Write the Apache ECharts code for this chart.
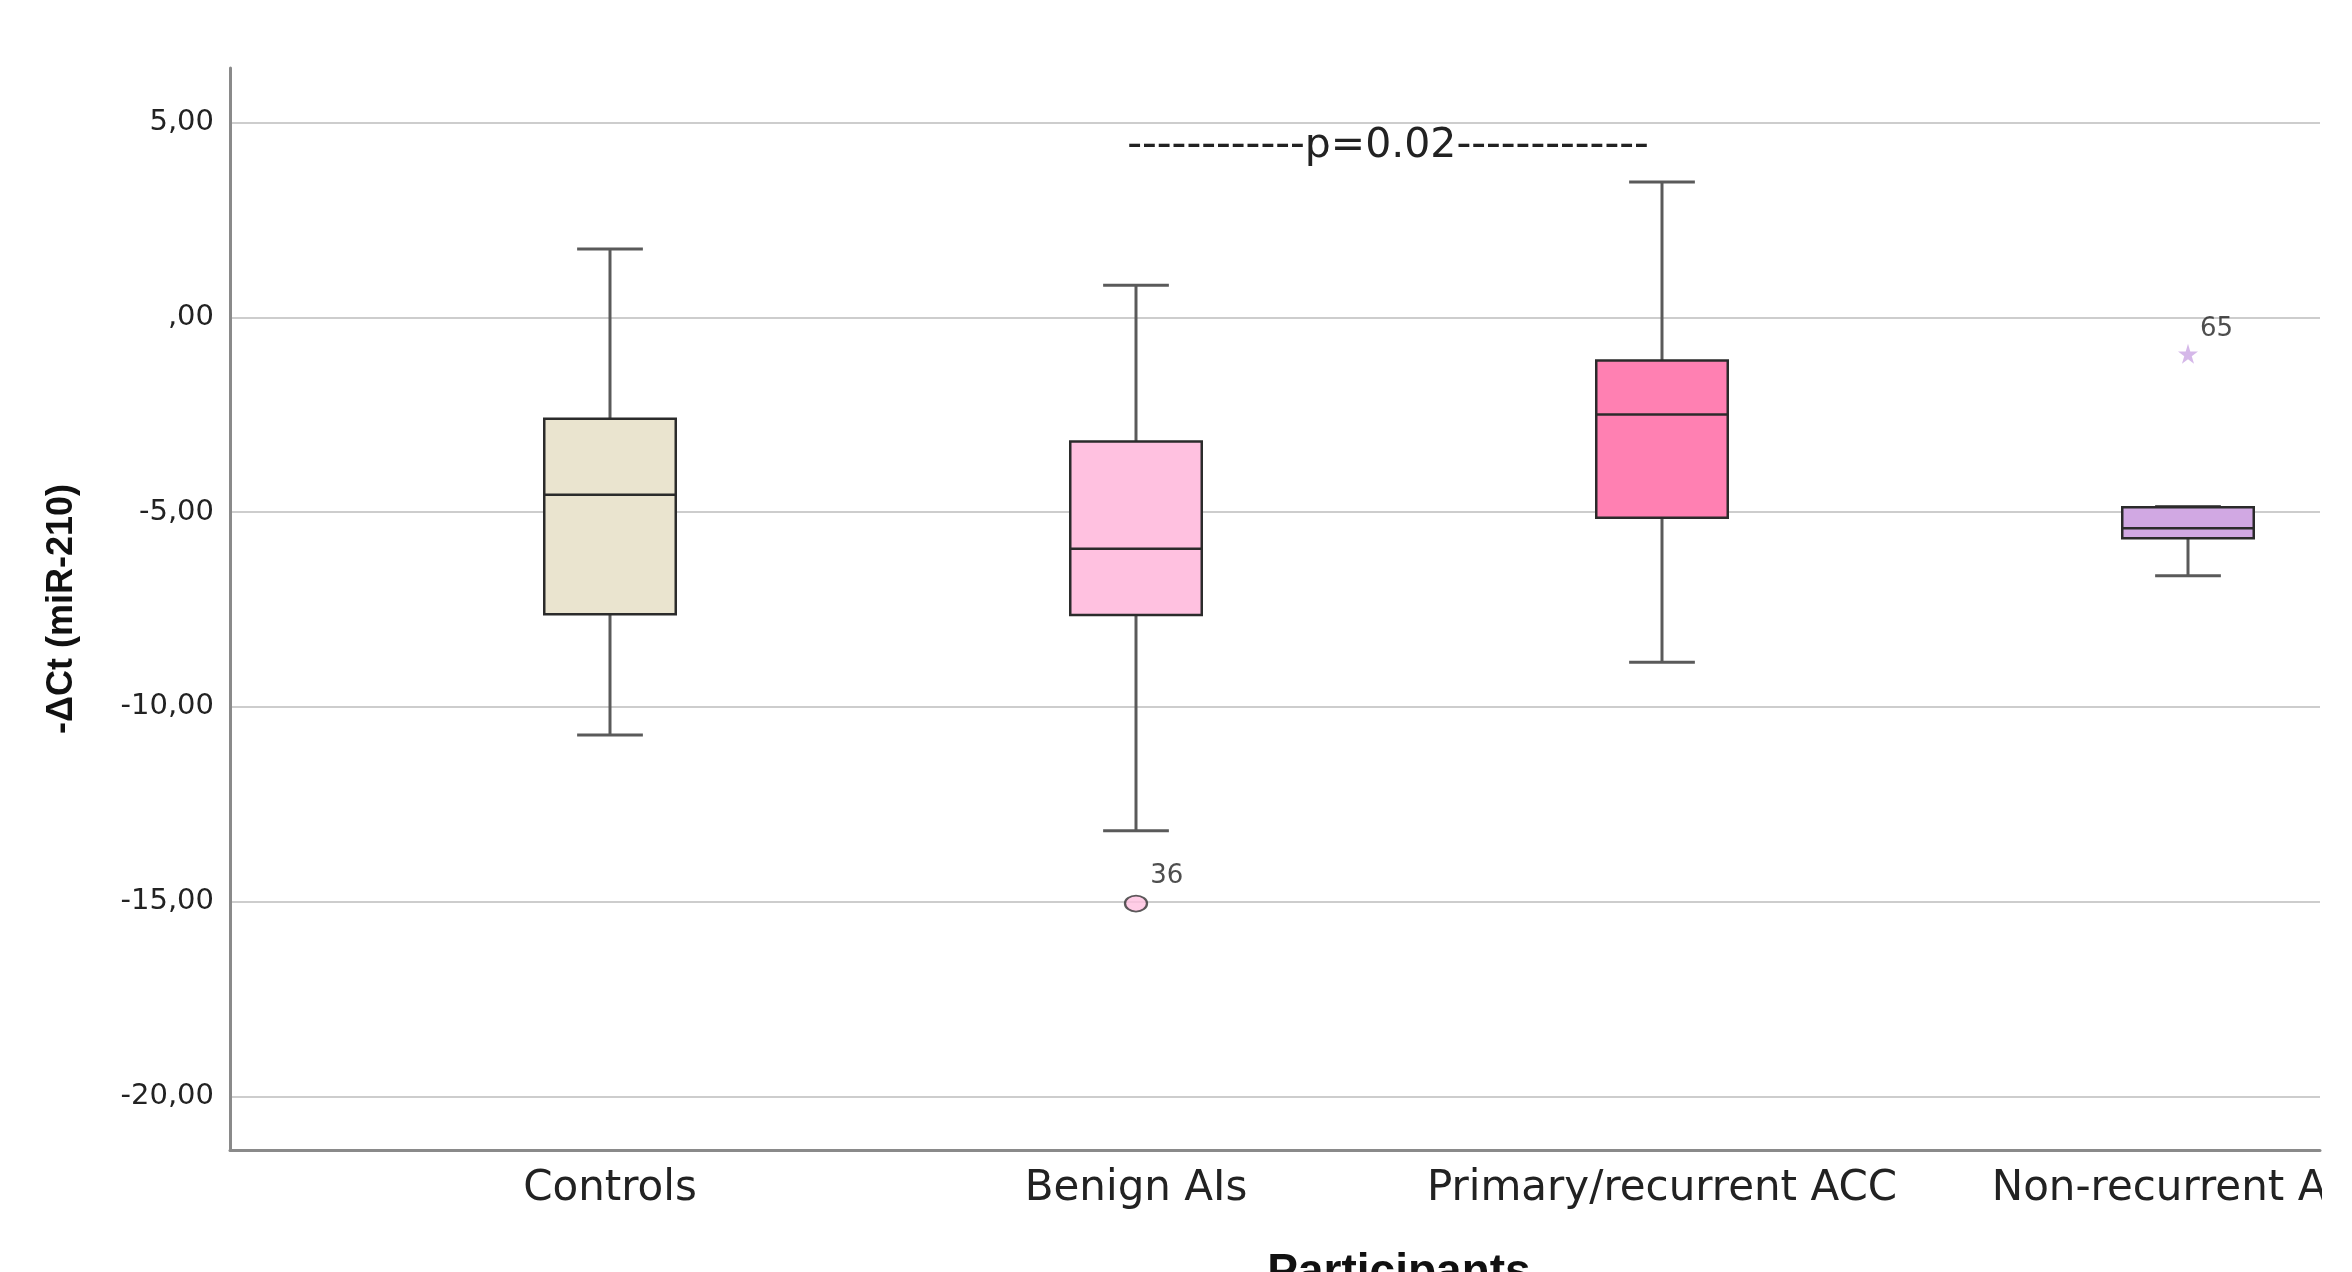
<!DOCTYPE html>
<html>
<head>
<meta charset="utf-8">
<style>
  html, body { margin: 0; padding: 0; background: #ffffff; }
  #chart { width: 2352px; height: 1272px; }
</style>
<script src="https://cdn.jsdelivr.net/npm/echarts@6/dist/echarts.min.js"></script>
</head>
<body>
<div id="chart"></div>
<script>
// ---- data ----
const categories = ['Controls', 'Benign AIs', 'Primary/recurrent ACC', 'Non-recurrent ACC'];
const whiskerLow  = [-10.72, -13.18, -8.85, -6.63];
const quartile1   = [-7.62,  -7.64,  -5.14, -5.67];
const medians     = [-4.55,  -5.94,  -2.49, -5.41];
const quartile3   = [-2.60,  -3.18,  -1.10, -4.87];
const whiskerHigh = [1.76,    0.83,   3.48, -4.85];
const boxColors   = ['#EAE4CF', '#FFC1E0', '#FF80B2', '#D1A8E3'];

const outlierCategory = [1, 3];
const outlierValue    = [-15.05, -0.93];
const outlierId       = ['36', '65'];

const yTickValues = [5, 0, -5, -10, -15, -20];
const yTickLabels = ['5,00', ',00', '-5,00', '-10,00', '-15,00', '-20,00'];

const annotationText = '------------p=0.02-------------';
const annotationY = 4.41;       // value level of the p-value note
const annotationBetween = [1, 2]; // categories it is centred between

const yMin = -21.38, yMax = 6.41;

// ---- build ----
const boxData = categories.map((c, i) => [i, whiskerLow[i], quartile1[i], medians[i], quartile3[i], whiskerHigh[i]]);
const circleOutliers = [], starOutliers = [];
outlierCategory.forEach((ci, k) => {
  const item = { value: [ci, outlierValue[k]], name: outlierId[k] };
  if (outlierValue[k] < whiskerLow[ci]) circleOutliers.push(item); else starOutliers.push(item);
});

const chart = echarts.init(document.getElementById('chart'), null, { renderer: 'canvas' });

const option = {
  backgroundColor: '#ffffff',
  animation: false,
  grid: [
    { left: 230, right: 32, top: 68, bottom: 122, containLabel: false, outerBoundsMode: 'none' },
    { left: 347, width: 2104, top: 68, bottom: 122, containLabel: false, outerBoundsMode: 'none' }
  ],
  xAxis: [
    {
      gridIndex: 0, type: 'value', min: 0, max: 1,
      axisLine: { show: true, onZero: false, lineStyle: { color: '#8a8a8a', width: 3 } },
      axisTick: { show: false }, axisLabel: { show: false }, splitLine: { show: false }
    },
    {
      gridIndex: 1, type: 'category', data: categories,
      axisLine: { show: false, onZero: false }, axisTick: { show: false },
      axisLabel: { fontFamily: 'DejaVu Sans', fontSize: 42, color: '#222', margin: 18, interval: 0 },
      name: 'Participants', nameLocation: 'middle', nameGap: 100,
      nameTextStyle: { fontFamily: 'Liberation Sans', fontWeight: 'bold', fontSize: 46, color: '#111' }
    }
  ],
  yAxis: [
    {
      gridIndex: 0, type: 'value', min: yMin, max: yMax, splitNumber: 5,
      axisLine: { show: true, onZero: false, lineStyle: { color: '#8a8a8a', width: 3 } },
      axisTick: { show: false },
      splitLine: { show: true, showMinLine: false, showMaxLine: false, lineStyle: { color: '#cdcdcd', width: 2 } },
      axisLabel: {
        fontFamily: 'DejaVu Sans', fontSize: 29, color: '#222', margin: 16,
        padding: [6, 0, 0, 0],
        showMinLabel: false, showMaxLabel: false,
        formatter: function (v) {
          const idx = yTickValues.findIndex(t => Math.abs(t - v) < 1e-6);
          return idx >= 0 ? yTickLabels[idx] : '';
        }
      },
      name: '-\u0394Ct (miR-210)', nameLocation: 'middle', nameGap: 150,
      nameTextStyle: { fontFamily: 'Liberation Sans', fontWeight: 'bold', fontSize: 36, color: '#111' }
    },
    {
      gridIndex: 1, type: 'value', min: yMin, max: yMax, show: false, splitLine: { show: false }
    }
  ],
  series: [
    {
      type: 'custom',
      xAxisIndex: 1, yAxisIndex: 1,
      data: boxData,
      encode: { x: 0, y: [1, 2, 3, 4, 5] },
      z: 5,
      renderItem: function (params, api) {
        const i = api.value(0);
        const pLo = api.coord([i, api.value(1)]);
        const pQ1 = api.coord([i, api.value(2)]);
        const pMed = api.coord([i, api.value(3)]);
        const pQ3 = api.coord([i, api.value(4)]);
        const pHi = api.coord([i, api.value(5)]);
        const band = api.size([1, 0])[0];
        const boxW = band * 0.25;
        const capW = boxW * 0.5;
        const cx = pMed[0];
        const whisk = { stroke: '#5a5a5a', lineWidth: 3 };
        const edge = { stroke: '#2b2b2b', lineWidth: 2.5 };
        return {
          type: 'group',
          children: [
            { type: 'line', shape: { x1: cx, y1: pHi[1], x2: cx, y2: pQ3[1] }, style: whisk },
            { type: 'line', shape: { x1: cx, y1: pQ1[1], x2: cx, y2: pLo[1] }, style: whisk },
            { type: 'line', shape: { x1: cx - capW / 2, y1: pHi[1], x2: cx + capW / 2, y2: pHi[1] }, style: whisk },
            { type: 'line', shape: { x1: cx - capW / 2, y1: pLo[1], x2: cx + capW / 2, y2: pLo[1] }, style: whisk },
            { type: 'rect', shape: { x: cx - boxW / 2, y: pQ3[1], width: boxW, height: pQ1[1] - pQ3[1] },
              style: Object.assign({ fill: boxColors[i] }, edge) },
            { type: 'line', shape: { x1: cx - boxW / 2, y1: pMed[1], x2: cx + boxW / 2, y2: pMed[1] }, style: edge }
          ]
        };
      }
    },
    {
      type: 'scatter',
      xAxisIndex: 1, yAxisIndex: 1,
      data: circleOutliers,
      symbol: 'circle', symbolSize: [22, 16], z: 6,
      itemStyle: { color: '#FFC1E0', borderColor: '#333', borderWidth: 2 },
      label: { show: true, position: 'right', distance: 2, offset: [0, -27], formatter: '{b}',
               fontFamily: 'DejaVu Sans', fontSize: 26, color: '#222' }
    },
    {
      type: 'scatter',
      xAxisIndex: 1, yAxisIndex: 1,
      data: starOutliers,
      symbol: 'path://M50,0 L61,35 L98,35 L68,57 L79,91 L50,70 L21,91 L32,57 L2,35 L39,35 Z',
      symbolSize: 20, z: 6,
      itemStyle: { color: '#CBA6E3' },
      label: { show: true, position: 'right', distance: 2, offset: [0, -25], formatter: '{b}',
               fontFamily: 'DejaVu Sans', fontSize: 26, color: '#222' }
    }
  ]
};
chart.setOption(option);

// p-value note, positioned through the axes
const pA = chart.convertToPixel({ xAxisIndex: 1, yAxisIndex: 1 }, [annotationBetween[0], annotationY]);
const pB = chart.convertToPixel({ xAxisIndex: 1, yAxisIndex: 1 }, [annotationBetween[1], annotationY]);
chart.setOption({
  graphic: [
    {
      type: 'text', z: 50,
      x: (pA[0] + pB[0]) / 2 - 11, y: pA[1],
      style: { text: annotationText, fontFamily: 'DejaVu Sans', fontSize: 41, fill: '#222',
               align: 'center', verticalAlign: 'middle' }
    },
    {
      type: 'rect', z: 100,
      shape: { x: 2322, y: 1152, width: 40, height: 130 },
      style: { fill: '#ffffff' }
    }
  ]
});
</script>
</body>
</html>
